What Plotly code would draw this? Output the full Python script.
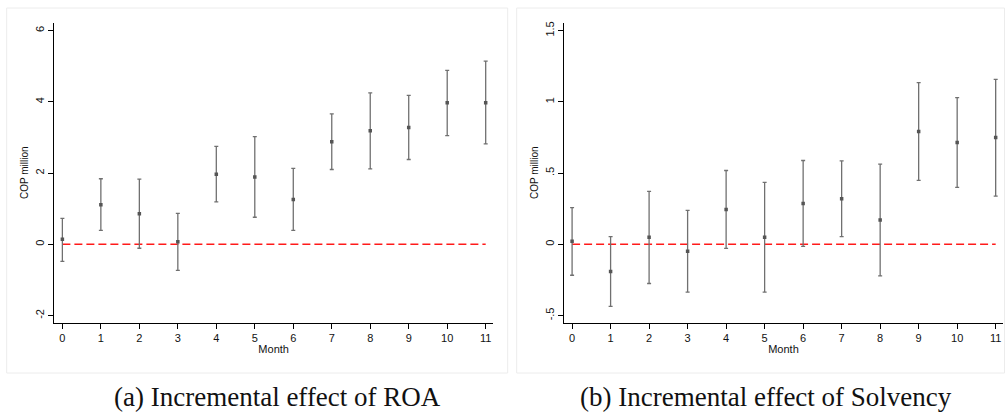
import plotly.graph_objects as go

months = list(range(12))

roa_est = [0.14, 1.11, 0.86, 0.07, 1.97, 1.89, 1.26, 2.88, 3.19, 3.28, 3.97, 3.97]
roa_hi = [0.73, 1.84, 1.83, 0.87, 2.75, 3.02, 2.13, 3.66, 4.25, 4.18, 4.88, 5.14]
roa_lo = [-0.48, 0.39, -0.11, -0.73, 1.19, 0.76, 0.39, 2.10, 2.12, 2.38, 3.05, 2.82]

solv_est = [0.021, -0.191, 0.049, -0.049, 0.245, 0.049, 0.287, 0.320, 0.170, 0.791, 0.714, 0.749]
solv_hi = [0.257, 0.054, 0.371, 0.238, 0.518, 0.434, 0.588, 0.585, 0.562, 1.134, 1.029, 1.157]
solv_lo = [-0.217, -0.436, -0.275, -0.336, -0.028, -0.336, -0.014, 0.054, -0.222, 0.448, 0.399, 0.338]

roa_ticks = [-2, 0, 2, 4, 6]
roa_ticktext = ["-2", "0", "2", "4", "6"]
solv_ticks = [-0.5, 0, 0.5, 1, 1.5]
solv_ticktext = ["-.5", "0", ".5", "1", "1.5"]

captions = ["(a) Incremental effect of ROA", "(b) Incremental effect of Solvency"]

W, H = 1005, 420
fig = go.Figure()

def add_panel(est, hi, lo, xa, ya):
    fig.add_trace(go.Scatter(
        x=[months[0], months[-1]], y=[0, 0], mode="lines",
        line=dict(color="#ff1a1a", width=1.5, dash="8px,4px"),
        xaxis=xa, yaxis=ya, showlegend=False, hoverinfo="skip"))
    fig.add_trace(go.Scatter(
        x=months, y=est, mode="markers",
        marker=dict(symbol="square", size=3.5, color="#555555"),
        error_y=dict(type="data", symmetric=False,
                     array=[h - e for h, e in zip(hi, est)],
                     arrayminus=[e - l for e, l in zip(est, lo)],
                     color="#707070", thickness=1.3, width=2),
        xaxis=xa, yaxis=ya, showlegend=False))

add_panel(roa_est, roa_hi, roa_lo, "x", "y")
add_panel(solv_est, solv_hi, solv_lo, "x2", "y2")

tickfont = dict(family="Liberation Sans, Arial, sans-serif", size=11, color="#111")
common_x = dict(range=[-0.21, 11.19], tickmode="array", tickvals=months,
                ticktext=[str(m) for m in months], showline=True, linecolor="#000",
                linewidth=1, ticks="outside", ticklen=5, tickcolor="#000",
                showgrid=False, zeroline=False, tickfont=tickfont,
                title=dict(text="Month", font=dict(family="Liberation Sans, Arial, sans-serif", size=11, color="#111"), standoff=2))
common_y = dict(showline=True, linecolor="#000", linewidth=1, ticks="outside",
                ticklen=5, tickcolor="#000", showgrid=False, zeroline=False,
                tickangle=-90, tickfont=tickfont, tickmode="array",
                title=dict(text="COP million", font=dict(family="Liberation Sans, Arial, sans-serif", size=10, color="#111"), standoff=3))

yd = [(H - 322.7) / H, (H - 22.7) / H]
fig.update_layout(
    width=W, height=H, margin=dict(l=0, r=0, t=0, b=0),
    paper_bgcolor="white", plot_bgcolor="white",
    xaxis=dict(domain=[54.3 / W, 493 / W], anchor="y", **common_x),
    yaxis=dict(domain=yd, anchor="x", range=[-2.2, 6.22], tickvals=roa_ticks,
               ticktext=roa_ticktext, **common_y),
    xaxis2=dict(domain=[564 / W, 1003 / W], anchor="y2", **common_x),
    yaxis2=dict(domain=yd, anchor="x2", range=[-0.55, 1.555], tickvals=solv_ticks,
                ticktext=solv_ticktext, **common_y),
)

# faint panel frames
for x0, x1 in [(6.7, 507.7), (516.7, 1004.5)]:
    fig.add_shape(type="rect", xref="paper", yref="paper",
                  x0=x0 / W, x1=x1 / W, y0=(H - 373) / H, y1=(H - 8) / H,
                  line=dict(color="#ececec", width=1), layer="below")

for cx, text in zip([277, 766], captions):
    fig.add_annotation(x=cx / W, y=(H - 397) / H, xref="paper", yref="paper",
                       text=text, showarrow=False, xanchor="center", yanchor="middle",
                       font=dict(family="Liberation Serif, Times New Roman, serif", size=27, color="#111"))

fig.write_html("out.html")
